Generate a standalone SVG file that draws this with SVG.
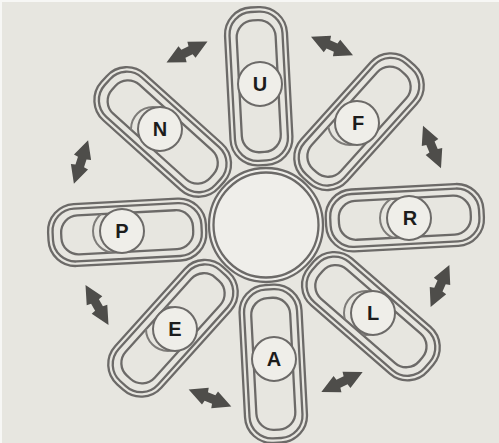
<svg xmlns="http://www.w3.org/2000/svg" xmlns:xlink="http://www.w3.org/1999/xlink" width="499" height="443" viewBox="0 0 499 443">
<style>
.bg{fill:#e7e6e0}
.ln{fill:none;stroke:#6c6a68;stroke-width:2.3}
.ball{fill:#efeee9;stroke:#6c6a68;stroke-width:2}
.shadow{fill:none;stroke:#7e7c79;stroke-width:2}
.arrow{fill:#4e4d4a}
.lbl{font-family:"Liberation Sans",Arial,sans-serif;font-weight:bold;font-size:20px;fill:#1c1c1c;text-anchor:middle}
</style>
<defs>
<g id="arm">
<rect class="ln" x="60" y="-31" width="158" height="62" rx="27"/>
<rect class="ln" x="64.5" y="-26.5" width="149" height="53" rx="22.5"/>
<rect class="ln" x="73" y="-19.5" width="132" height="39" rx="17"/>
</g>
<clipPath id="slot"><rect x="73" y="-19.5" width="132" height="39" rx="17"/></clipPath>
<path id="dblarrow" d="M-23,0 L-5,-9 L-4,-4.5 L4,-4.5 L5,-9 L23,0 L5,9 L4,4.5 L-4,4.5 L-5,9 Z"/>
</defs>
<rect class="bg" x="0" y="0" width="499" height="443"/>
<rect x="0" y="0" width="499" height="2" fill="#f7f7f5"/>
<rect x="0" y="0" width="2" height="443" fill="#f7f7f5"/>

<g id="node-center">
<circle cx="266" cy="225" r="57" fill="#efeeea" stroke="#6c6a68" stroke-width="2.3"/>
<circle cx="266" cy="225" r="52.5" fill="none" stroke="#6c6a68" stroke-width="2.3"/>
</g>

<g id="node-U">
<g transform="translate(266 225) rotate(-93)"><use href="#arm"/></g>
<circle class="ball" cx="260" cy="84" r="22"/>
<text class="lbl" x="260" y="91">U</text>
</g>

<g id="node-F">
<g transform="translate(266 225) rotate(-48)"><use href="#arm"/>
<g clip-path="url(#slot)"><g transform="rotate(48) translate(-266 -225)"><circle class="shadow" cx="350" cy="123" r="22"/></g></g></g>
<circle class="ball" cx="357" cy="123" r="22"/>
<text class="lbl" x="358" y="130">F</text>
</g>

<g id="node-R">
<g transform="translate(266 225) rotate(-3)"><use href="#arm"/>
<g clip-path="url(#slot)"><g transform="rotate(3) translate(-266 -225)"><circle class="shadow" cx="402" cy="218" r="22"/></g></g></g>
<circle class="ball" cx="409" cy="218" r="22"/>
<text class="lbl" x="410" y="225">R</text>
</g>

<g id="node-L">
<g transform="translate(266 225) rotate(41)"><use href="#arm"/>
<g clip-path="url(#slot)"><g transform="rotate(-41) translate(-266 -225)"><circle class="shadow" cx="366" cy="313" r="22"/></g></g></g>
<circle class="ball" cx="373" cy="313" r="22"/>
<text class="lbl" x="373" y="320">L</text>
</g>

<g id="node-A">
<g transform="translate(266 225) rotate(87)"><use href="#arm"/></g>
<circle class="ball" cx="274" cy="359" r="22"/>
<text class="lbl" x="274" y="366">A</text>
</g>

<g id="node-E">
<g transform="translate(266 225) rotate(132)"><use href="#arm"/>
<g clip-path="url(#slot)"><g transform="rotate(-132) translate(-266 -225)"><circle class="shadow" cx="168" cy="329" r="22"/></g></g></g>
<circle class="ball" cx="175" cy="329" r="22"/>
<text class="lbl" x="175" y="336">E</text>
</g>

<g id="node-P">
<g transform="translate(266 225) rotate(177)"><use href="#arm"/>
<g clip-path="url(#slot)"><g transform="rotate(-177) translate(-266 -225)"><circle class="shadow" cx="115" cy="231" r="22"/></g></g></g>
<circle class="ball" cx="122" cy="231" r="22"/>
<text class="lbl" x="122" y="238">P</text>
</g>

<g id="node-N">
<g transform="translate(266 225) rotate(222)"><use href="#arm"/>
<g clip-path="url(#slot)"><g transform="rotate(-222) translate(-266 -225)"><circle class="shadow" cx="153" cy="129" r="22"/></g></g></g>
<circle class="ball" cx="160" cy="129" r="22"/>
<text class="lbl" x="160" y="136">N</text>
</g>

<g id="connectors">
<use class="arrow" href="#dblarrow" transform="translate(187 52) rotate(-27)"/>
<use class="arrow" href="#dblarrow" transform="translate(332 46) rotate(24)"/>
<use class="arrow" href="#dblarrow" transform="translate(432 147) rotate(67)"/>
<use class="arrow" href="#dblarrow" transform="translate(440 286) rotate(-66)"/>
<use class="arrow" href="#dblarrow" transform="translate(342 382) rotate(-26)"/>
<use class="arrow" href="#dblarrow" transform="translate(210 398) rotate(22)"/>
<use class="arrow" href="#dblarrow" transform="translate(97 305) rotate(60)"/>
<use class="arrow" href="#dblarrow" transform="translate(81 162) rotate(-72)"/>
</g>
</svg>
